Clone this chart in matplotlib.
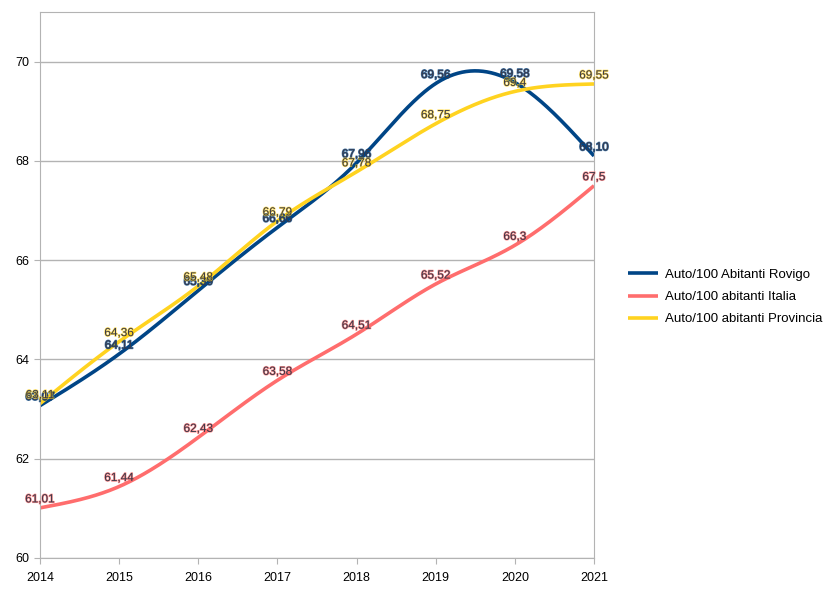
import matplotlib
matplotlib.use('Agg')
import matplotlib.pyplot as plt
import matplotlib.patheffects as pe
import numpy as np

plt.rcParams['font.family'] = ['Liberation Sans', 'DejaVu Sans']

years = [2014, 2015, 2016, 2017, 2018, 2019, 2020, 2021]
rovigo = [63.07, 64.11, 65.39, 66.66, 67.96, 69.56, 69.58, 68.10]
italia = [61.01, 61.44, 62.43, 63.58, 64.51, 65.52, 66.3, 67.5]
provincia = [63.11, 64.36, 65.48, 66.79, 67.78, 68.75, 69.4, 69.55]
rovigo_labels = ['63,07', '64,11', '65,39', '66,66', '67,96', '69,56', '69,58', '68,10']
italia_labels = ['61,01', '61,44', '62,43', '63,58', '64,51', '65,52', '66,3', '67,5']
provincia_labels = ['63,11', '64,36', '65,48', '66,79', '67,78', '68,75', '69,4', '69,55']


def spline(x, y, n=400):
    # natural cubic spline, like the smoothed lines of the office chart
    x = np.asarray(x, float)
    y = np.asarray(y, float)
    k = len(x)
    h = np.diff(x)
    A = np.zeros((k, k))
    b = np.zeros(k)
    A[0, 0] = A[-1, -1] = 1
    for i in range(1, k - 1):
        A[i, i - 1] = h[i - 1]
        A[i, i] = 2 * (h[i - 1] + h[i])
        A[i, i + 1] = h[i]
        b[i] = 6 * ((y[i + 1] - y[i]) / h[i] - (y[i] - y[i - 1]) / h[i - 1])
    m = np.linalg.solve(A, b)
    xs = np.linspace(x[0], x[-1], n)
    idx = np.clip(np.searchsorted(x, xs) - 1, 0, k - 2)
    t = xs - x[idx]
    hi = h[idx]
    a = (m[idx + 1] - m[idx]) / (6 * hi)
    bb = m[idx] / 2
    c = (y[idx + 1] - y[idx]) / hi - hi * (2 * m[idx] + m[idx + 1]) / 6
    ys = y[idx] + c * t + bb * t ** 2 + a * t ** 3
    return xs, ys


fig = plt.figure(figsize=(8.31, 5.94), dpi=100)
ax = fig.add_axes([40 / 831, 36 / 594, 554 / 831, 546 / 594])

series = [
    (rovigo, rovigo_labels, '#004586', 'Auto/100 Abitanti Rovigo'),
    (italia, italia_labels, '#ff6d6d', 'Auto/100 abitanti Italia'),
    (provincia, provincia_labels, '#ffd320', 'Auto/100 abitanti Provincia'),
]

for vals, labs, col, name in series:
    xs, ys = spline(years, vals)
    ax.plot(xs, ys, color=col, lw=2.6, label=name, solid_capstyle='butt')

for vals, labs, col, name in series:
    for x, v, s in zip(years, vals, labs):
        ax.text(x, v + 0.05, s, ha='center', va='bottom', fontsize=8.5,
                color='#3a3a4a',
                path_effects=[pe.withStroke(linewidth=1.0, foreground=col, alpha=0.7)])

ax.set_xlim(2014, 2021)
ax.set_ylim(60, 71)
ax.set_xticks(years)
ax.set_yticks([60, 62, 64, 66, 68, 70])
ax.yaxis.grid(True, color='#b3b3b3', lw=1)
ax.set_axisbelow(True)
for sp in ax.spines.values():
    sp.set_color('#b3b3b3')
ax.tick_params(colors='#b3b3b3', labelcolor='black', labelsize=9, length=4)
ax.tick_params(axis='x', pad=6)

ax.legend(loc='center left', bbox_to_anchor=(1.04, 0.478), frameon=False,
          fontsize=9.5, handlelength=2.3, handletextpad=0.5, labelspacing=0.75)

fig.savefig('out.png', dpi=100)
